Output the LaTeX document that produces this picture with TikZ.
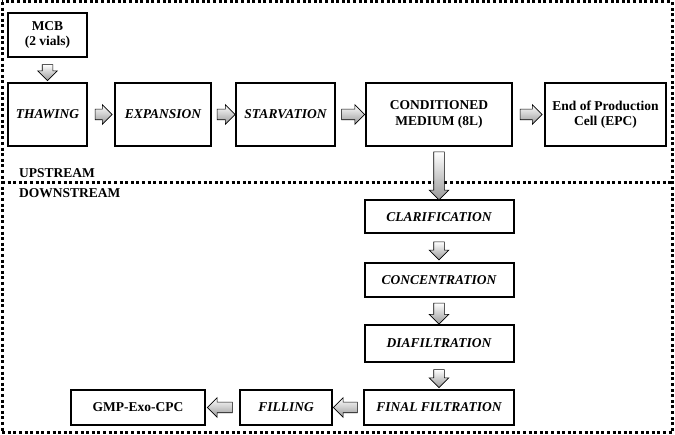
\documentclass[tikz,border=0pt]{standalone}
\usepackage{fontspec}
\setmainfont{Liberation Serif}
\usetikzlibrary{shapes.arrows}
\tikzset{
  box/.style={draw, line width=2pt, align=center, inner sep=1pt,
    font=\fontsize{13.5}{15.5}\selectfont\bfseries},
  stepbox/.style={box, font=\fontsize{13.5}{15.5}\selectfont\bfseries\itshape},
  fat/.style={single arrow, draw, line width=0.6pt, sloped, allow upside down,
    inner sep=0pt, inner ysep=5pt, single arrow head extend=4.5pt,
    top color=white, bottom color=gray!80},
  zone/.style={line width=3pt, dash pattern=on 3pt off 2.6pt},
  zonelabel/.style={anchor=west, inner sep=0pt,
    font=\fontsize{13.5}{15}\selectfont\bfseries}
}
\begin{document}
\begin{tikzpicture}[x=1pt,y=-1pt]
\useasboundingbox (0,0) rectangle (675,435);

% zones
\draw[zone] (2,2) rectangle (672,433);
\draw[zone] (2,183) -- (672,183);
\node[zonelabel] (up) at (19,173) {UPSTREAM};
\node[zonelabel] (down) at (19,193) {DOWNSTREAM};

% upstream
\node[box, minimum width=79pt, minimum height=44pt] (mcb) at (47.5,35) {MCB\\(2 vials)};
\node[stepbox, minimum width=79pt, minimum height=63pt] (thaw) at (47.5,114.5) {THAWING};
\node[stepbox, minimum width=96pt, minimum height=63pt] (exp) at (163,114.5) {EXPANSION};
\node[stepbox, minimum width=99pt, minimum height=63pt] (starv) at (285.5,114.5) {STARVATION};
\node[box, minimum width=146pt, minimum height=63pt] (cond) at (439,114.5) {CONDITIONED\\MEDIUM (8L)};
\node[box, minimum width=121pt, minimum height=63pt] (epc) at (605.5,114.5) {End of Production\\Cell (EPC)};

% downstream
\node[stepbox, minimum width=149pt, minimum height=33pt] (clar) at (439,217) {CLARIFICATION};
\node[stepbox, minimum width=149pt, minimum height=34pt] (conc) at (439,280) {CONCENTRATION};
\node[stepbox, minimum width=149pt, minimum height=37pt] (dia) at (439,343.5) {DIAFILTRATION};
\node[stepbox, minimum width=150pt, minimum height=35pt] (final) at (439,407.5) {FINAL FILTRATION};
\node[stepbox, minimum width=92pt, minimum height=35pt] (fill) at (286,407.5) {FILLING};
\node[box, minimum width=134pt, minimum height=35pt] (gmp) at (138,407.5) {GMP-Exo-CPC};

% block arrows
\path (mcb) -- node[fat, minimum height=16pt] {} (thaw);
\path (thaw) -- node[fat, minimum height=17pt] {} (exp);
\path (exp) -- node[fat, minimum height=18pt] {} (starv);
\path (starv) -- node[fat, minimum height=23pt] {} (cond);
\path (cond) -- node[fat, minimum height=48pt] {} (clar);
\path (cond) -- node[fat, minimum height=22pt] {} (epc);
\path (clar) -- node[fat, minimum height=18pt] {} (conc);
\path (conc) -- node[fat, minimum height=21pt] {} (dia);
\path (dia) -- node[fat, minimum height=18pt] {} (final);
\path (final) -- node[fat, minimum height=24pt] {} (fill);
\path (fill) -- node[fat, minimum height=25pt] {} (gmp);
\end{tikzpicture}
\end{document}
